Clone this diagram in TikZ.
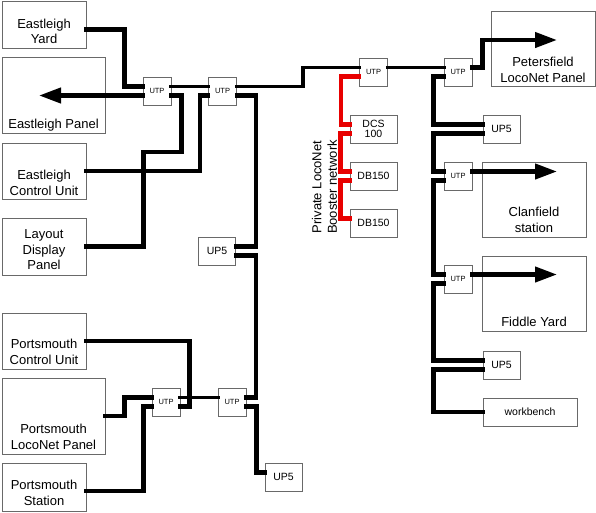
\documentclass[tikz,border=0pt]{standalone}
\usepackage{fontspec}
\setmainfont{Liberation Sans}
\usetikzlibrary{arrows.meta,positioning,calc}
\definecolor{framegray}{RGB}{105,105,105}
\definecolor{boosterred}{RGB}{232,0,0}
\tikzset{
  panel/.style={
    draw=framegray, line width=.9pt, fill=white,
    inner sep=0pt, minimum width=84pt
  },
  paneltext/.style={
    align=center, inner sep=0pt,
    font=\fontsize{13}{15.5}\selectfont
  },
  module/.style={
    draw=framegray, line width=.9pt, fill=white,
    inner sep=0pt, minimum width=37pt, minimum height=28pt, align=center,
    font=\fontsize{10.5}{10}\selectfont
  },
  utp/.style={module, minimum width=28pt, font=\fontsize{7.5}{9}\selectfont},
  trunk/.style={line width=3.2pt, shorten <=-2pt, shorten >=-2pt},
  cable/.style={line width=4.2pt, shorten <=-2pt, shorten >=-2pt},
  booster/.style={cable, draw=boosterred},
  feed/.style={cable, shorten >=0pt, -{Triangle[length=22pt,width=15pt]}}
}

\begin{document}
\begin{tikzpicture}[x=1pt,y=-1pt]
  \useasboundingbox (0,0) rectangle (596,512);

  % Eastleigh end
  \node[panel, minimum height=47pt] (eyard) at (44,24.5) {};
  \node[paneltext] (eyardtext) at (44,31.5) {Eastleigh\\Yard};
  \node[panel, minimum width=103pt, minimum height=76pt] (epanel) at (53.5,95) {};
  \node[paneltext] (epaneltext) at (53.5,125) {Eastleigh Panel};
  \node[panel, minimum height=56pt] (ecu) at (44,171) {};
  \node[paneltext] (ecutext) at (44,183) {Eastleigh\\Control Unit};
  \node[panel, minimum height=57pt] (ldp) at (44,246.5) {};
  \node[paneltext] (ldptext) at (44,250) {Layout\\Display\\Panel};

  % Portsmouth end
  \node[panel, minimum height=56pt] (pcu) at (44,341) {};
  \node[paneltext] (pcutext) at (44,352) {Portsmouth\\Control Unit};
  \node[panel, minimum width=103pt, minimum height=76pt] (plp) at (53.5,416) {};
  \node[paneltext] (plptext) at (53.5,437) {Portsmouth\\LocoNet Panel};
  \node[panel, minimum height=48pt] (pst) at (44,487) {};
  \node[paneltext] (psttext) at (44,493) {Portsmouth\\Station};

  % Far end panels
  \node[panel, minimum width=104pt, minimum height=75pt] (ptf) at (543,48.5) {};
  \node[paneltext] (ptftext) at (543,70) {Petersfield\\LocoNet Panel};
  \node[panel, minimum width=104pt, minimum height=75pt] (clan) at (534,199.5) {};
  \node[paneltext] (clantext) at (534,220) {Clanfield\\station};
  \node[panel, minimum width=104pt, minimum height=75pt] (fiddle) at (534,293.5) {};
  \node[paneltext] (fiddletext) at (534,322) {Fiddle Yard};
  \node[module, minimum width=94pt] (bench) at (530,412) {workbench};

  % UTP and UP5 sockets
  \node[utp] (utp1) at (157,91) {UTP};
  \node[utp] (utp2) at (222.5,91) {UTP};
  \node[utp] (utp3) at (166,402) {UTP};
  \node[utp] (utp4) at (232,402) {UTP};
  \node[utp] (utp5) at (373.5,72) {UTP};
  \node[utp] (utp6) at (458,72) {UTP};
  \node[utp] (utp7) at (458,176) {UTP};
  \node[utp] (utp8) at (458,279) {UTP};
  \node[module] (up5a) at (217,251) {UP5};
  \node[module] (up5b) at (501.5,129) {UP5};
  \node[module] (up5c) at (501.5,365) {UP5};
  \node[module] (up5d) at (283.5,477) {UP5};

  % Booster network
  \node[module, minimum width=47pt] (dcs) at (373.5,129) {DCS\\100};
  \node[module, minimum width=47pt] (db1) at (373.5,176) {DB150};
  \node[module, minimum width=47pt] (db2) at (373.5,223) {DB150};
  \node[paneltext, rotate=90] (boostertext) at (324.5,187)
    {Private LocoNet\\Booster network};

  % Arrow tips inside the panels
  \coordinate (eptip) at (39,95.5);
  \coordinate (ptftip) at (557,40);
  \coordinate (clantip) at (557,171.5);
  \coordinate (fiddletip) at (557,274.5);

  % LocoNet trunk
  \draw[trunk] ([yshift=4.5pt]utp1.east) -- ([yshift=4.5pt]utp2.west);
  \draw[trunk] ([yshift=4.5pt]utp2.east) -- ++(66,0) |- ([yshift=4.5pt]utp5.west);
  \draw[trunk] ([yshift=4.5pt]utp5.east) -- ([yshift=4.5pt]utp6.west);
  \draw[trunk] ([yshift=4.5pt]utp3.east) -- ([yshift=4.5pt]utp4.west);

  % Eastleigh cables
  \draw[cable] ([yshift=-5pt]eyard.east) -- ++(38,0) |- ([yshift=4.5pt]utp1.west);
  \draw[feed] ([yshift=-4.5pt]utp1.west) -- (eptip);
  \draw[cable] ([yshift=-4.5pt]utp1.east) -- ++(10,0) -- ++(0,56.5)
    -- ++(-38,0) |- (ldp.east);
  \draw[cable] ([yshift=-4.5pt]utp2.west) -- ++(-8,0) |- (ecu.east);
  \draw[cable] ([yshift=-4.5pt]utp2.east) -- ++(19,0) |- ([yshift=4.5pt]up5a.east);
  \draw[cable] ([yshift=-4.5pt]up5a.east) -- ++(20,0) |- ([yshift=4.5pt]utp4.east);

  % Portsmouth cables
  \draw[cable] ([yshift=-4.5pt]utp4.east) -- ++(10,0) |- ([yshift=4.5pt]up5d.west);
  \draw[cable] (pcu.east) -- ++(103,0) |- ([yshift=-4.5pt]utp3.east);
  \draw[cable] (plp.east) -- ++(19,0) |- ([yshift=4.5pt]utp3.west);
  \draw[cable] ([yshift=-4pt]pst.east) -- ++(57,0) |- ([yshift=-4.5pt]utp3.west);

  % Far end cables
  \draw[feed] ([yshift=4.5pt]utp6.east) -- ++(10,0) |- (ptftip);
  \draw[cable] ([yshift=-4.5pt]utp6.west) -- ++(-10,0) |- ([yshift=4.5pt]up5b.west);
  \draw[cable] ([yshift=-4.5pt]up5b.west) -- ++(-49,0) |- ([yshift=4.5pt]utp7.west);
  \draw[feed] ([yshift=4.5pt]utp7.east) -- (clantip);
  \draw[cable] ([yshift=-4.5pt]utp7.west) -- ++(-10,0) |- ([yshift=4.5pt]utp8.west);
  \draw[feed] ([yshift=4.5pt]utp8.east) -- (fiddletip);
  \draw[cable] ([yshift=-4.5pt]utp8.west) -- ++(-10,0) |- ([yshift=4.5pt]up5c.west);
  \draw[cable] ([yshift=-4.5pt]up5c.west) -- ++(-49,0) |- (bench.west);

  % Private booster cables
  \draw[booster] ([yshift=-4.5pt]utp5.west) -- ++(-18,0) |- ([yshift=4.5pt]dcs.west);
  \draw[booster] ([yshift=-4.5pt]dcs.west) -- ++(-9,0) |- ([yshift=4.5pt]db1.west);
  \draw[booster] ([yshift=-4.5pt]db1.west) -- ++(-9,0) |- ([yshift=4.5pt]db2.west);
\end{tikzpicture}
\end{document}
